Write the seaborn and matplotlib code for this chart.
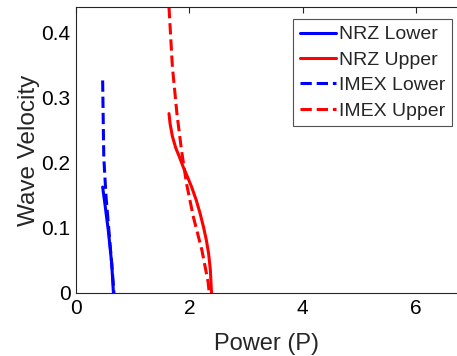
import numpy as np
import pandas as pd
import seaborn as sns
import matplotlib
matplotlib.use("Agg")
import matplotlib.pyplot as plt

# Data
nrz_lower_p = [0.47, 0.51, 0.57, 0.63, 0.66]
nrz_lower_v = [0.163, 0.137, 0.096, 0.045, 0.0]

nrz_upper_p = [1.64, 1.66, 1.70, 1.76, 1.83, 1.89, 1.96, 2.04, 2.12, 2.19, 2.25, 2.30, 2.34, 2.37, 2.39]
nrz_upper_v = [0.276, 0.260, 0.241, 0.223, 0.208, 0.194, 0.180, 0.163, 0.143, 0.122, 0.101, 0.081, 0.060, 0.035, 0.0]

imex_lower_p = [0.47, 0.48, 0.49, 0.53, 0.59, 0.63, 0.67]
imex_lower_v = [0.327, 0.266, 0.209, 0.148, 0.086, 0.045, 0.0]

imex_upper_p = [1.64, 1.70, 1.78, 1.86, 1.95, 2.07, 2.22, 2.33, 2.35]
imex_upper_v = [0.440, 0.348, 0.276, 0.220, 0.168, 0.117, 0.066, 0.017, 0.0]

labels = ["NRZ Lower", "NRZ Upper", "IMEX Lower", "IMEX Upper"]
x_ticks = [0, 2, 4, 6]
y_ticks = [0, 0.1, 0.2, 0.3, 0.4]

series = [
    (labels[0], nrz_lower_p, nrz_lower_v, "#0000ff", "-"),
    (labels[1], nrz_upper_p, nrz_upper_v, "#ff0000", "-"),
    (labels[2], imex_lower_p, imex_lower_v, "#0000ff", "--"),
    (labels[3], imex_upper_p, imex_upper_v, "#ff0000", "--"),
]

sns.set_style("white")
plt.rcParams['font.family'] = ['Liberation Sans', 'DejaVu Sans']

fig = plt.figure(figsize=(4.57, 3.56), dpi=100)
L, R, T, B = 76, 457, 7, 293
ax = fig.add_axes([L/457, 1 - B/356, (R - L)/457, (B - T)/356])

for lab, p, v, c, ls in series:
    df = pd.DataFrame({"P": p, "V": v})
    sns.lineplot(data=df, x="P", y="V", sort=False, estimator=None, ax=ax,
                 color=c, linestyle=ls, linewidth=2.2, label=lab)

ax.set_xlim(0, (R - L) / 56.7)
ax.set_ylim(0, 0.44)
ax.set_xticks(x_ticks)
ax.set_xticklabels([str(t) for t in x_ticks])
ax.set_yticks(y_ticks)
ax.set_yticklabels(["0", "0.1", "0.2", "0.3", "0.4"])
ax.tick_params(direction="in", length=4, width=0.8, labelsize=15, pad=4,
               top=True, right=False, colors="#262626", labelcolor="black")
ax.set_xlabel("Power (P)", fontsize=17, labelpad=11)
ax.set_ylabel("Wave Velocity", fontsize=17.5, labelpad=1)
for s in ["left", "bottom", "top"]:
    ax.spines[s].set_color("#262626")
    ax.spines[s].set_linewidth(0.8)
ax.spines["right"].set_visible(False)

leg = ax.legend(loc="upper right",
                bbox_to_anchor=((452 - L) / (R - L), 1 - (19 - T) / (B - T)),
                bbox_transform=ax.transAxes,
                fontsize=14, frameon=True, fancybox=False, handlelength=1.85,
                handletextpad=0.15, borderpad=0.35, labelspacing=0.4, borderaxespad=0)
leg.get_frame().set_edgecolor("#262626")
leg.get_frame().set_linewidth(0.8)

fig.savefig("out.png", dpi=100)
